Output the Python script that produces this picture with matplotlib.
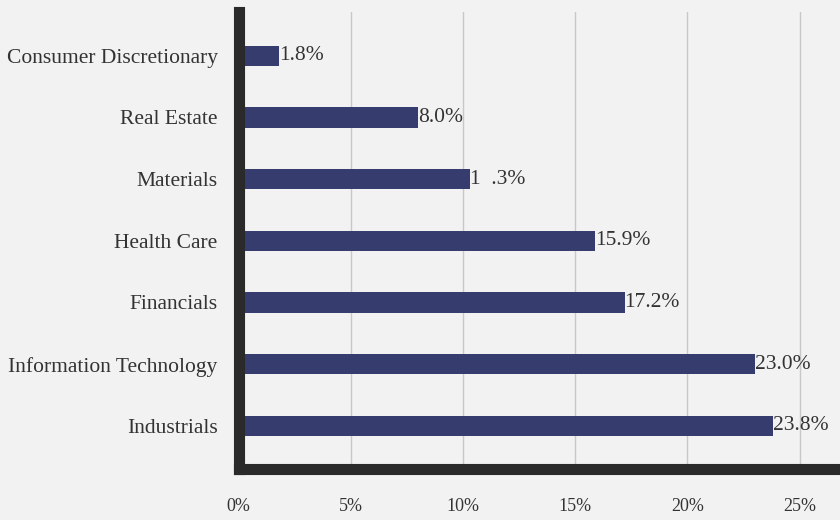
import numpy as np
import matplotlib.pyplot as plt

# sectors listed bottom to top
sectors = ["Industrials", "Information Technology", "Financials", "Health Care",
           "Materials", "Real Estate", "Consumer Discretionary"]
weights = [23.8, 23.0, 17.2, 15.9, 10.3, 8.0, 1.8]
labels = ["23.8%", "23.0%", "17.2%", "15.9%", "1  .3%", "8.0%", "1.8%"]
xticks = [0, 5, 10, 15, 20, 25]
xticklabels = ["0%", "5%", "10%", "15%", "20%", "25%"]

plt.rcParams["font.family"] = ["Liberation Serif", "DejaVu Serif"]

fig = plt.figure(figsize=(8.4, 5.2), dpi=100, facecolor="#f2f2f2")
ax = fig.add_axes([0.284, 0.098, 0.716, 0.879], facecolor="#f2f2f2")

y = np.arange(len(sectors))
ax.barh(y, weights, height=0.33, color="#363d6e", zorder=3)
for yi, w, lab in zip(y, weights, labels):
    ax.text(w, yi, lab, va="center", ha="left", fontsize=15.5, color="#333333", zorder=4)

ax.set_xlim(0, 26.8)
ax.set_ylim(-0.70, 6.71)
ax.set_yticks(y)
ax.set_yticklabels(sectors, fontsize=15.5, color="#333333")
ax.set_xticks(xticks)
ax.set_xticklabels(xticklabels, fontsize=13, color="#333333")
ax.tick_params(axis="both", length=0)
ax.tick_params(axis="x", pad=21)
ax.tick_params(axis="y", pad=15)
ax.grid(axis="x", color="#c8c8c8", linewidth=1, zorder=0)

for s in ["top", "right"]:
    ax.spines[s].set_visible(False)
for s in ["left", "bottom"]:
    ax.spines[s].set_linewidth(8)
    ax.spines[s].set_color("#2a2a2a")
    ax.spines[s].set_zorder(5)

fig.savefig("out.png", dpi=100, facecolor=fig.get_facecolor())
